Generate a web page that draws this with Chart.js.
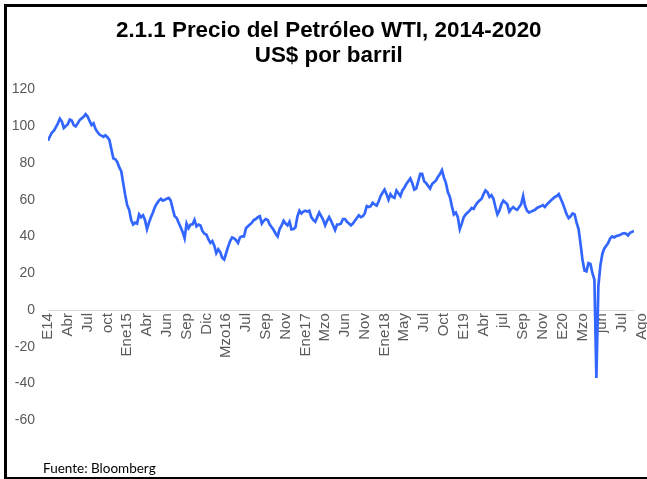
<!DOCTYPE html>
<html>
<head>
<meta charset="utf-8">
<script src="https://cdn.jsdelivr.net/npm/chart.js@4/dist/chart.umd.min.js"></script>
<style>
html,body{margin:0;padding:0;background:#fff;overflow:hidden;}
#wrap{position:relative;width:647px;height:479px;overflow:hidden;}
#frame{position:absolute;left:4px;top:4px;width:700px;height:470px;border-left:3px solid #000;border-top:3px solid #000;border-bottom:3px solid #000;}
#c{position:absolute;left:0;top:0;}
#src{position:absolute;left:43px;top:460px;font-family:Lato,"Open Sans",sans-serif;font-size:13.5px;line-height:16px;color:#000;white-space:nowrap;}
</style>
</head>
<body>
<div id="wrap">
  <div id="frame"></div>
  <canvas id="c" width="647" height="479"></canvas>
  <div id="src">Fuente: Bloomberg</div>
</div>
<script>
// Category tick labels (one every 10 trading-day samples)
const tickLabels = ['E14','Abr','Jul','oct','Ene15','Abr','Jun','Sep','Dic','Mzo16','Jul','Sep','Nov','Ene17','Mzo','Jun','Nov','Ene18','May','Jul','Oct','E19','Abr','jul','Sep','Nov','E20','Mzo','jun','Jul','Ago'];
const tickStep = 10;

// WTI price, US$ per barrel (Jan 2014 - Aug 2020)
const wti = [
  92.0, 94.5, 96.5, 97.5, 99.5, 101.5, 104.0, 102.5, 99.0, 100.0,
  101.0, 103.5, 103.0, 100.5, 99.8, 101.5, 103.3, 104.2, 105.0, 106.5,
  105.2, 102.8, 100.6, 101.5, 98.5, 96.8, 95.4, 94.8, 94.2, 95.0,
  94.0, 92.5, 87.5, 82.5, 82.0, 80.5, 77.5, 75.5, 69.0, 62.5,
  57.0, 54.5, 49.0, 46.5, 47.5, 47.0, 52.0, 50.5, 51.5, 49.0,
  44.0, 47.5, 50.5, 53.0, 56.0, 58.0, 59.5, 60.5, 59.5, 60.0,
  60.5, 61.0, 59.5, 55.0, 51.0, 50.0, 47.5, 45.0, 42.5, 39.0,
  47.0, 44.5, 46.5, 46.5, 49.0, 45.5, 46.5, 46.0, 43.0, 41.5,
  41.0, 38.5, 36.5, 37.5, 35.0, 31.0, 33.0, 31.5, 28.5, 27.5,
  31.0, 34.5, 37.5, 39.5, 39.0, 38.0, 36.5, 39.5, 40.0, 40.0,
  44.5, 45.5, 46.5, 47.5, 49.0, 49.5, 50.5, 51.0, 47.0, 48.5,
  49.5, 49.0, 46.5, 45.0, 43.5, 41.5, 40.0, 44.0, 46.0, 48.5,
  47.0, 46.0, 48.0, 43.8, 44.0, 45.0, 51.0, 54.0, 52.5, 53.5,
  54.0, 53.5, 54.0, 50.5, 49.0, 48.0, 50.5, 53.0, 51.0, 49.0,
  46.0, 48.5, 50.5, 48.5, 46.0, 43.5, 46.5, 46.5, 47.0, 49.5,
  49.5, 48.0, 47.0, 46.0, 47.0, 48.5, 50.0, 51.5, 50.5, 51.0,
  52.5, 56.5, 56.0, 56.5, 58.3, 57.5, 56.8, 59.0, 62.0, 63.8,
  65.5, 63.0, 60.0, 63.0, 61.5, 61.0, 65.0, 63.5, 62.0, 65.0,
  66.5, 68.5, 70.0, 71.5, 69.0, 65.5, 66.0, 70.0, 74.0, 74.0,
  70.0, 69.0, 67.5, 66.0, 68.5, 69.5, 70.5, 72.5, 74.0, 76.0,
  72.0, 69.0, 64.0, 61.5, 56.5, 52.0, 53.0, 50.5, 44.0, 47.0,
  50.5, 52.0, 53.0, 54.0, 55.5, 55.0, 57.0, 58.5, 59.5, 60.5,
  63.0, 65.0, 64.0, 61.5, 62.5, 60.5, 56.0, 52.0, 54.0, 57.5,
  59.5, 58.5, 57.5, 53.5, 55.0, 56.0, 55.0, 54.5, 56.0, 57.5,
  62.0, 56.5, 54.0, 53.0, 53.5, 54.0, 54.5, 55.5, 56.0, 56.5,
  57.0, 56.0, 57.5, 58.5, 59.5, 60.5, 61.5, 62.0, 63.0, 60.5,
  58.0, 55.0, 52.0, 50.0, 51.0, 52.5, 52.0, 47.5, 44.0, 36.0,
  27.0, 21.5, 21.0, 25.5, 25.0, 20.0, 16.5, -37.0, 13.0, 24.0,
  30.5, 33.5, 35.0, 36.5, 39.0, 40.0, 39.5, 40.2, 40.5, 40.8,
  41.5, 41.8, 41.5, 40.5, 42.0, 42.5, 43.0
];

// Value axis ticks
const yTickValues = [-60, -40, -20, 0, 20, 40, 60, 80, 100, 120];

const titleLines = ['2.1.1 Precio del Petróleo WTI, 2014-2020', 'US$ por barril'];

const FONT = "'Liberation Sans', Arial, Helvetica, sans-serif";

// keep the title centred over the whole frame, as in the original
const titleCentre = {
  id: 'titleCentre',
  afterLayout(chart) {
    const t = chart.titleBlock;
    if (t) { t.left += 12; }
  }
};

new Chart(document.getElementById('c'), {
  type: 'line',
  data: {
    datasets: [{
      data: wti.map((v, i) => ({ x: i, y: v })),
      borderColor: '#3366ff',
      borderWidth: 2.7,
      pointRadius: 0,
      tension: 0,
      fill: false
    }]
  },
  options: {
    responsive: false,
    animation: false,
    devicePixelRatio: 1,
    layout: { padding: { left: 11.5, right: 13, top: 0, bottom: 58.6 } },
    plugins: {
      legend: { display: false },
      tooltip: { enabled: false },
      title: {
        display: true,
        text: titleLines,
        color: '#000',
        font: { family: FONT, size: 22.4, weight: 'bold', lineHeight: 1.15 },
        padding: { top: 17.6, bottom: 20.2 }
      }
    },
    scales: {
      x: {
        type: 'linear',
        position: { y: 0 },
        min: 0,
        max: wti.length - 1,
        grid: { display: false, drawTicks: false },
        border: { display: false },
        afterBuildTicks: (scale) => {
          scale.ticks = tickLabels.map((_, j) => ({ value: j * tickStep }));
        },
        afterFit: (scale) => { scale.paddingLeft = 0; scale.paddingRight = 0; },
        ticks: {
          autoSkip: false,
          maxRotation: 90,
          minRotation: 90,
          padding: 3,
          color: '#595959',
          font: { family: FONT, size: 15 },
          callback: (value, index) => tickLabels[index]
        }
      },
      y: {
        min: yTickValues[0],
        max: yTickValues[yTickValues.length - 1],
        afterFit: (scale) => { scale.width = 36.5; },
        grid: {
          drawTicks: false,
          color: (ctx) => (ctx.tick && ctx.tick.value === 0 ? '#d9d9d9' : 'rgba(0,0,0,0)'),
          lineWidth: 1
        },
        border: { display: false },
        ticks: {
          stepSize: yTickValues[1] - yTickValues[0],
          padding: 13,
          color: '#595959',
          font: { family: FONT, size: 14 }
        }
      }
    }
  },
  plugins: [titleCentre]
});
</script>
</body>
</html>
